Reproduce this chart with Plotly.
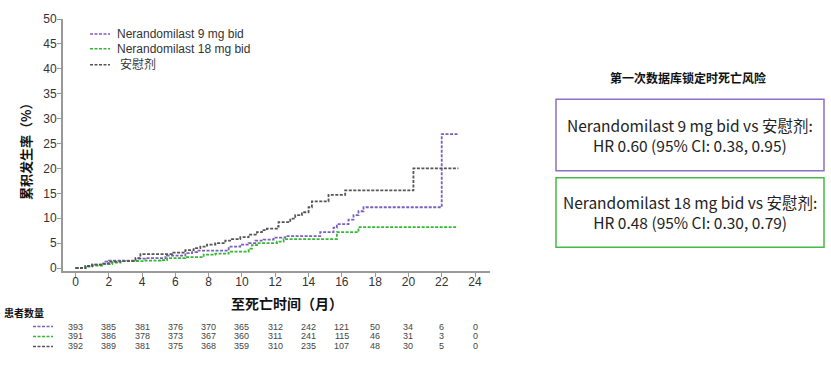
import plotly.graph_objects as go

# ---------------- data ----------------
placebo_t = [0, 0.6, 1.0, 1.6, 2.0, 2.7, 3.6, 3.9, 5.8, 6.6, 7.1, 7.5, 7.9, 8.4, 9.0, 9.4, 9.9,
             10.4, 10.9, 11.2, 11.5, 12.1, 12.2, 12.9, 13.2, 13.6, 14.0, 14.2, 15.2, 16.2, 20.3, 23.0]
placebo_v = [0, 0.4, 0.7, 0.9, 1.3, 1.4, 2.0, 2.8, 3.1, 3.6, 4.0, 4.3, 4.7, 5.0, 5.5, 5.8, 6.2,
             6.7, 7.2, 7.6, 7.9, 8.3, 9.2, 9.9, 10.6, 11.2, 12.2, 13.4, 14.7, 15.6, 20.0, 20.0]

mg9_t = [0, 0.6, 1.0, 1.6, 1.8, 2.0, 3.8, 4.2, 5.4, 5.5, 6.6, 7.0, 7.3, 9.2, 9.9, 10.4, 10.8,
         11.3, 11.9, 12.6, 14.7, 15.5, 15.7, 16.4, 16.7, 17.0, 17.3, 22.0, 23.0]
mg9_v = [0, 0.4, 0.7, 0.9, 1.3, 1.5, 1.9, 2.0, 2.2, 2.5, 3.0, 3.2, 3.5, 4.3, 4.7, 5.0, 5.5,
         5.7, 6.1, 6.4, 7.2, 8.1, 8.8, 9.7, 10.6, 11.4, 12.2, 26.9, 26.9]

mg18_t = [0, 0.6, 1.0, 1.6, 2.2, 2.7, 4.1, 5.1, 5.5, 6.6, 7.7, 8.4, 9.2, 10.4, 10.6, 10.9,
          12.1, 12.5, 15.7, 17.0, 22.9]
mg18_v = [0, 0.3, 0.5, 0.8, 1.1, 1.4, 1.5, 1.6, 2.0, 2.2, 2.7, 2.9, 3.3, 3.9, 4.6, 5.0,
          5.3, 5.8, 7.2, 8.2, 8.2]

series_names = ["Nerandomilast 9 mg bid", "Nerandomilast 18 mg bid", "安慰剂"]
series_colors = ["#7B5FBF", "#33B833", "#555555"]

risk_times = [0, 2, 4, 6, 8, 10, 12, 14, 16, 18, 20, 22, 24]
risk_9mg = [393, 385, 381, 376, 370, 365, 312, 242, 121, 50, 34, 6, 0]
risk_18mg = [391, 386, 378, 373, 367, 360, 311, 241, 115, 46, 31, 3, 0]
risk_placebo = [392, 389, 381, 375, 368, 359, 310, 235, 107, 48, 30, 5, 0]

x_ticks = list(range(0, 25, 2))
y_ticks = list(range(0, 51, 5))

panel_title = "第一次数据库锁定时死亡风险"
hr_texts = ["Nerandomilast 9 mg bid vs 安慰剂:<br>HR 0.60 (95% CI: 0.38, 0.95)",
            "Nerandomilast 18 mg bid vs 安慰剂:<br>HR 0.48 (95% CI: 0.30, 0.79)"]
box_colors = ["#8C6FC8", "#44BB44"]

# ---------------- layout helpers (page pixel coordinates) ----------------
PAGE_W, PAGE_H = 831, 369
PL, PR, PT, PB = 63, 490, 17, 271   # plot area in page pixels
PW, PH = PR - PL, PB - PT
ML, MT = PL, PT
MR, MB = PAGE_W - PR, PAGE_H - PB


def px(xp):
    return (xp - PL) / PW


def py(yp):
    return (PB - yp) / PH


FONT = "Liberation Sans, Arial, Noto Sans CJK SC, sans-serif"
CJK = "Noto Sans CJK SC, sans-serif"
DASH = "3px,1.5px"

fig = go.Figure()
for t, v, name, col in zip([mg9_t, mg18_t, placebo_t], [mg9_v, mg18_v, placebo_v],
                           series_names, series_colors):
    fig.add_trace(go.Scatter(x=t, y=v, mode="lines", name=name, line_shape="hv",
                             line=dict(color=col, width=1.8, dash=DASH), showlegend=False))

shapes = []
annotations = []

# manual legend
leg_y = [32, 47, 63]
for yy, name, col in zip(leg_y, series_names, series_colors):
    shapes.append(dict(type="line", xref="paper", yref="paper", x0=px(90), x1=px(110),
                       y0=py(yy), y1=py(yy), line=dict(color=col, width=1.5, dash=DASH)))
    annotations.append(dict(xref="paper", yref="paper", x=px(118 if name == "安慰剂" else 115), y=py(yy),
                            text=name, showarrow=False, xanchor="left", yanchor="middle",
                            font=dict(family=FONT, size=12, color="#333")))

# axis titles
annotations.append(dict(xref="paper", yref="paper", x=px(287), y=py(303), text="<b>至死亡时间（月）</b>",
                        showarrow=False, xanchor="center", yanchor="middle",
                        font=dict(family=CJK, size=14, color="#111")))
annotations.append(dict(xref="paper", yref="paper", x=px(26), y=py(147), text="<b>累积发生率（%）</b>",
                        showarrow=False, textangle=-90, xanchor="center", yanchor="middle",
                        font=dict(family=CJK, size=13, color="#111")))

# number at risk
annotations.append(dict(xref="paper", yref="paper", x=px(2), y=py(313), text="<b>患者数量</b>",
                        showarrow=False, xanchor="left", yanchor="middle",
                        font=dict(family=CJK, size=10, color="#111")))
row_y = [327, 337, 347]
for yy, counts, col in zip(row_y, [risk_9mg, risk_18mg, risk_placebo], series_colors):
    shapes.append(dict(type="line", xref="paper", yref="paper", x0=px(33), x1=px(53),
                       y0=py(yy), y1=py(yy), line=dict(color=col, width=1.5, dash=DASH)))
    for tt, c in zip(risk_times, counts):
        annotations.append(dict(xref="x", yref="paper", x=tt, y=py(yy), text=str(c),
                                showarrow=False, xanchor="center", yanchor="middle",
                                font=dict(family=FONT, size=9, color="#444")))

# right panel
annotations.append(dict(xref="paper", yref="paper", x=px(688), y=py(76), text="<b>" + panel_title + "</b>",
                        showarrow=False, xanchor="center", yanchor="middle",
                        font=dict(family=CJK, size=12, color="#111")))
boxes = [(98, 170), (177, 247)]
for (y0, y1), txt, col in zip(boxes, hr_texts, box_colors):
    shapes.append(dict(type="rect", xref="paper", yref="paper", x0=px(556), x1=px(824),
                       y0=py(y0), y1=py(y1), line=dict(color=col, width=1.5)))
    annotations.append(dict(xref="paper", yref="paper", x=px(690), y=py((y0 + y1) / 2), text=txt,
                            showarrow=False, xanchor="center", yanchor="middle", align="center",
                            font=dict(family=CJK, size=15.5, color="#222")))

axis_common = dict(showgrid=False, zeroline=False, showline=True, linecolor="#999", linewidth=2,
                   ticks="outside", ticklen=4, tickcolor="#999",
                   tickfont=dict(family=FONT, size=12, color="#333"))

fig.update_layout(
    width=PAGE_W, height=PAGE_H,
    margin=dict(l=ML, r=MR, t=MT, b=MB),
    paper_bgcolor="white", plot_bgcolor="white",
    shapes=shapes, annotations=annotations,
    xaxis=dict(range=[-0.75, 24.9], tickvals=x_ticks, ticklabelstandoff=-5, **axis_common),
    yaxis=dict(range=[-0.6, 50], tickvals=y_ticks, ticklabelstandoff=-2, **axis_common),
)

fig.write_html("out.html", config={"displayModeBar": False},
               post_script="document.body.style.margin='0';document.body.style.padding='0';")
